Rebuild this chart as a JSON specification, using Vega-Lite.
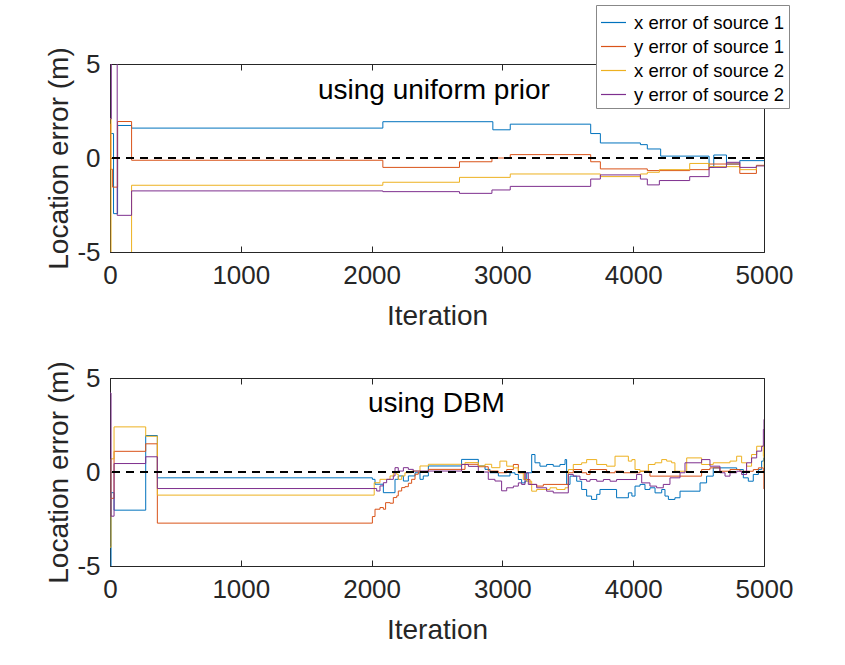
{
  "$schema": "https://vega.github.io/schema/vega-lite/v6.json",
  "background": "white",
  "padding": {"left": 45, "top": 4, "right": 0, "bottom": 0},
  "datasets": {
    "top": [
      {"s": "x1", "it": 0, "v": 1.3}, {"s": "x1", "it": 27, "v": -2.96}, {"s": "x1", "it": 58, "v": 1.73}, {"s": "x1", "it": 165, "v": 1.59},
      {"s": "x1", "it": 2086, "v": 1.93}, {"s": "x1", "it": 2927, "v": 1.5}, {"s": "x1", "it": 3060, "v": 1.8}, {"s": "x1", "it": 3675, "v": 1.3},
      {"s": "x1", "it": 3749, "v": 0.8}, {"s": "x1", "it": 4055, "v": 0.71}, {"s": "x1", "it": 4108, "v": 0.48}, {"s": "x1", "it": 4210, "v": 0.1},
      {"s": "x1", "it": 4580, "v": -0.5}, {"s": "x1", "it": 4616, "v": 0.16}, {"s": "x1", "it": 4713, "v": -0.32}, {"s": "x1", "it": 4815, "v": -0.14},
      {"s": "x1", "it": 5000, "v": -0.14},
      {"s": "y1", "it": 0, "v": 1.8}, {"s": "y1", "it": 5, "v": -0.6}, {"s": "y1", "it": 20, "v": -1.55}, {"s": "y1", "it": 58, "v": 1.94},
      {"s": "y1", "it": 165, "v": -0.12}, {"s": "y1", "it": 2086, "v": -0.5}, {"s": "y1", "it": 2672, "v": -0.2}, {"s": "y1", "it": 2920, "v": 0.0},
      {"s": "y1", "it": 3060, "v": 0.18}, {"s": "y1", "it": 3675, "v": -0.2}, {"s": "y1", "it": 3749, "v": -0.58}, {"s": "y1", "it": 4108, "v": -0.67},
      {"s": "y1", "it": 4432, "v": -0.62}, {"s": "y1", "it": 4580, "v": -0.32}, {"s": "y1", "it": 4815, "v": -0.82}, {"s": "y1", "it": 4942, "v": -0.39},
      {"s": "y1", "it": 5000, "v": -0.39},
      {"s": "x2", "it": 0, "v": 2.1}, {"s": "x2", "it": 8, "v": -6}, {"s": "x2", "it": 165, "v": -1.45}, {"s": "x2", "it": 2086, "v": -1.29},
      {"s": "x2", "it": 2672, "v": -1.03}, {"s": "x2", "it": 3060, "v": -0.85}, {"s": "x2", "it": 3749, "v": -0.99}, {"s": "x2", "it": 4055, "v": -0.85},
      {"s": "x2", "it": 4108, "v": -0.76}, {"s": "x2", "it": 4200, "v": -0.62}, {"s": "x2", "it": 4432, "v": -0.29}, {"s": "x2", "it": 4580, "v": -0.46},
      {"s": "x2", "it": 4815, "v": -0.62}, {"s": "x2", "it": 4942, "v": -0.4}, {"s": "x2", "it": 5000, "v": -0.4},
      {"s": "y2", "it": 0, "v": 2.08}, {"s": "y2", "it": 10, "v": 6}, {"s": "y2", "it": 55, "v": -3.05}, {"s": "y2", "it": 165, "v": -1.75},
      {"s": "y2", "it": 2086, "v": -1.79}, {"s": "y2", "it": 2672, "v": -1.88}, {"s": "y2", "it": 2920, "v": -1.7}, {"s": "y2", "it": 3060, "v": -1.51},
      {"s": "y2", "it": 3675, "v": -1.12}, {"s": "y2", "it": 3749, "v": -0.9}, {"s": "y2", "it": 4055, "v": -1.12}, {"s": "y2", "it": 4108, "v": -1.43},
      {"s": "y2", "it": 4200, "v": -1.2}, {"s": "y2", "it": 4432, "v": -0.99}, {"s": "y2", "it": 4580, "v": -0.5}, {"s": "y2", "it": 4713, "v": -0.23},
      {"s": "y2", "it": 4815, "v": -0.5}, {"s": "y2", "it": 4942, "v": -0.42}, {"s": "y2", "it": 5000, "v": -0.42}
    ],
    "bot": [
      {"s": "x1", "it": 0, "v": -5.2}, {"s": "x1", "it": 8, "v": -1.1}, {"s": "x1", "it": 31, "v": -2.03}, {"s": "x1", "it": 273, "v": 1.94},
      {"s": "x1", "it": 362, "v": -0.31}, {"s": "x1", "it": 2006, "v": -0.39}, {"s": "x1", "it": 2026, "v": -0.65}, {"s": "x1", "it": 2090, "v": -1.1},
      {"s": "x1", "it": 2179, "v": -0.39}, {"s": "x1", "it": 2204, "v": -0.21}, {"s": "x1", "it": 2243, "v": -0.48}, {"s": "x1", "it": 2281, "v": -0.21},
      {"s": "x1", "it": 2332, "v": -0.04}, {"s": "x1", "it": 2370, "v": -0.39}, {"s": "x1", "it": 2395, "v": -0.21}, {"s": "x1", "it": 2434, "v": 0.32},
      {"s": "x1", "it": 2688, "v": 0.67}, {"s": "x1", "it": 2816, "v": 0.32}, {"s": "x1", "it": 2867, "v": 0.14}, {"s": "x1", "it": 2905, "v": -0.04},
      {"s": "x1", "it": 2969, "v": -0.21}, {"s": "x1", "it": 3058, "v": -0.04}, {"s": "x1", "it": 3096, "v": -0.13}, {"s": "x1", "it": 3122, "v": -0.4},
      {"s": "x1", "it": 3147, "v": -0.58}, {"s": "x1", "it": 3173, "v": -0.49}, {"s": "x1", "it": 3186, "v": -0.04}, {"s": "x1", "it": 3224, "v": 0.93},
      {"s": "x1", "it": 3249, "v": 0.49}, {"s": "x1", "it": 3287, "v": 0.31}, {"s": "x1", "it": 3338, "v": 0.4}, {"s": "x1", "it": 3389, "v": 0.31},
      {"s": "x1", "it": 3440, "v": 0.4}, {"s": "x1", "it": 3479, "v": 0.66}, {"s": "x1", "it": 3491, "v": -0.66}, {"s": "x1", "it": 3517, "v": -0.22},
      {"s": "x1", "it": 3568, "v": -0.49}, {"s": "x1", "it": 3606, "v": -0.93}, {"s": "x1", "it": 3644, "v": -1.28}, {"s": "x1", "it": 3682, "v": -1.46},
      {"s": "x1", "it": 3721, "v": -1.19}, {"s": "x1", "it": 3746, "v": -0.93}, {"s": "x1", "it": 3873, "v": -1.37}, {"s": "x1", "it": 3963, "v": -1.11},
      {"s": "x1", "it": 3990, "v": -1.28}, {"s": "x1", "it": 4014, "v": -0.75}, {"s": "x1", "it": 4052, "v": -0.66}, {"s": "x1", "it": 4090, "v": -0.93},
      {"s": "x1", "it": 4128, "v": -0.84}, {"s": "x1", "it": 4167, "v": -1.11}, {"s": "x1", "it": 4218, "v": -0.93}, {"s": "x1", "it": 4243, "v": -1.28},
      {"s": "x1", "it": 4269, "v": -1.46}, {"s": "x1", "it": 4319, "v": -1.37}, {"s": "x1", "it": 4358, "v": -1.02}, {"s": "x1", "it": 4511, "v": -0.58},
      {"s": "x1", "it": 4561, "v": -0.22}, {"s": "x1", "it": 4612, "v": 0.22}, {"s": "x1", "it": 4791, "v": 0.13}, {"s": "x1", "it": 4842, "v": -0.31},
      {"s": "x1", "it": 4880, "v": -0.49}, {"s": "x1", "it": 4918, "v": -0.13}, {"s": "x1", "it": 4957, "v": 0.13}, {"s": "x1", "it": 4982, "v": 0.58},
      {"s": "x1", "it": 4997, "v": 0.75}, {"s": "x1", "it": 5000, "v": 0.75},
      {"s": "y1", "it": 0, "v": -1.4}, {"s": "y1", "it": 31, "v": 1.1}, {"s": "y1", "it": 273, "v": 1.5}, {"s": "y1", "it": 362, "v": -2.72},
      {"s": "y1", "it": 2006, "v": -2.37}, {"s": "y1", "it": 2026, "v": -1.98}, {"s": "y1", "it": 2064, "v": -1.89}, {"s": "y1", "it": 2090, "v": -1.98},
      {"s": "y1", "it": 2107, "v": -1.63}, {"s": "y1", "it": 2141, "v": -1.66}, {"s": "y1", "it": 2166, "v": -1.36}, {"s": "y1", "it": 2192, "v": -1.27},
      {"s": "y1", "it": 2204, "v": -1.01}, {"s": "y1", "it": 2230, "v": -0.83}, {"s": "y1", "it": 2255, "v": -0.78}, {"s": "y1", "it": 2281, "v": -0.6},
      {"s": "y1", "it": 2306, "v": -0.39}, {"s": "y1", "it": 2332, "v": -0.12}, {"s": "y1", "it": 2357, "v": 0.0}, {"s": "y1", "it": 2434, "v": 0.14},
      {"s": "y1", "it": 2714, "v": 0.41}, {"s": "y1", "it": 2816, "v": 0.28}, {"s": "y1", "it": 2892, "v": 0.05}, {"s": "y1", "it": 2969, "v": -0.04},
      {"s": "y1", "it": 3033, "v": 0.13}, {"s": "y1", "it": 3084, "v": 0.4}, {"s": "y1", "it": 3122, "v": -0.04}, {"s": "y1", "it": 3173, "v": -0.4},
      {"s": "y1", "it": 3211, "v": -0.66}, {"s": "y1", "it": 3262, "v": -0.75}, {"s": "y1", "it": 3313, "v": -0.66}, {"s": "y1", "it": 3504, "v": -0.04},
      {"s": "y1", "it": 3542, "v": 0.13}, {"s": "y1", "it": 3606, "v": -0.04}, {"s": "y1", "it": 3644, "v": -0.13}, {"s": "y1", "it": 3670, "v": 0.13},
      {"s": "y1", "it": 3797, "v": -0.04}, {"s": "y1", "it": 3861, "v": 0.04}, {"s": "y1", "it": 3924, "v": -0.04}, {"s": "y1", "it": 4052, "v": 0.04},
      {"s": "y1", "it": 4128, "v": -0.22}, {"s": "y1", "it": 4523, "v": 0.13}, {"s": "y1", "it": 4587, "v": 0.22}, {"s": "y1", "it": 4663, "v": 0.04},
      {"s": "y1", "it": 4740, "v": 0.13}, {"s": "y1", "it": 4816, "v": 0.04}, {"s": "y1", "it": 4918, "v": 0.13}, {"s": "y1", "it": 4957, "v": 0.22},
      {"s": "y1", "it": 4995, "v": -0.04}, {"s": "y1", "it": 4999, "v": -0.9}, {"s": "y1", "it": 5000, "v": -0.9},
      {"s": "x2", "it": 0, "v": -4.0}, {"s": "x2", "it": 8, "v": 0.7}, {"s": "x2", "it": 31, "v": 2.4}, {"s": "x2", "it": 273, "v": 1.9},
      {"s": "x2", "it": 362, "v": -1.23}, {"s": "x2", "it": 2020, "v": -0.57}, {"s": "x2", "it": 2064, "v": -0.39}, {"s": "x2", "it": 2141, "v": -0.21},
      {"s": "x2", "it": 2166, "v": -0.04}, {"s": "x2", "it": 2192, "v": -0.12}, {"s": "x2", "it": 2204, "v": -0.39}, {"s": "x2", "it": 2230, "v": -0.21},
      {"s": "x2", "it": 2255, "v": -0.04}, {"s": "x2", "it": 2306, "v": 0.05}, {"s": "x2", "it": 2370, "v": 0.32}, {"s": "x2", "it": 2434, "v": 0.41},
      {"s": "x2", "it": 2714, "v": 0.5}, {"s": "x2", "it": 2816, "v": 0.32}, {"s": "x2", "it": 2867, "v": 0.41}, {"s": "x2", "it": 2918, "v": 0.23},
      {"s": "x2", "it": 2981, "v": 0.58}, {"s": "x2", "it": 3033, "v": 0.31}, {"s": "x2", "it": 3084, "v": 0.22}, {"s": "x2", "it": 3122, "v": -0.04},
      {"s": "x2", "it": 3160, "v": -0.4}, {"s": "x2", "it": 3186, "v": -0.49}, {"s": "x2", "it": 3224, "v": -1.02}, {"s": "x2", "it": 3262, "v": -0.93},
      {"s": "x2", "it": 3364, "v": -0.84}, {"s": "x2", "it": 3415, "v": -0.93}, {"s": "x2", "it": 3479, "v": -0.84}, {"s": "x2", "it": 3504, "v": 0.13},
      {"s": "x2", "it": 3542, "v": 0.4}, {"s": "x2", "it": 3606, "v": 0.49}, {"s": "x2", "it": 3644, "v": 0.66}, {"s": "x2", "it": 3721, "v": 0.4},
      {"s": "x2", "it": 3797, "v": 0.31}, {"s": "x2", "it": 3861, "v": 0.84}, {"s": "x2", "it": 3963, "v": 0.58}, {"s": "x2", "it": 3990, "v": 0.66},
      {"s": "x2", "it": 4014, "v": 0.13}, {"s": "x2", "it": 4052, "v": 0.04}, {"s": "x2", "it": 4116, "v": 0.4}, {"s": "x2", "it": 4167, "v": 0.49},
      {"s": "x2", "it": 4218, "v": 0.66}, {"s": "x2", "it": 4256, "v": 0.58}, {"s": "x2", "it": 4294, "v": 0.49}, {"s": "x2", "it": 4319, "v": 0.04},
      {"s": "x2", "it": 4409, "v": 0.75}, {"s": "x2", "it": 4523, "v": 0.4}, {"s": "x2", "it": 4612, "v": 0.49}, {"s": "x2", "it": 4740, "v": 0.58},
      {"s": "x2", "it": 4791, "v": 0.84}, {"s": "x2", "it": 4829, "v": 0.49}, {"s": "x2", "it": 4867, "v": 0.31}, {"s": "x2", "it": 4905, "v": 0.93},
      {"s": "x2", "it": 4944, "v": 1.37}, {"s": "x2", "it": 4995, "v": 0.84}, {"s": "x2", "it": 5000, "v": 0.22},
      {"s": "y2", "it": 0, "v": 4.2}, {"s": "y2", "it": 8, "v": -2.35}, {"s": "y2", "it": 31, "v": 0.45}, {"s": "y2", "it": 273, "v": 0.81},
      {"s": "y2", "it": 362, "v": -0.88}, {"s": "y2", "it": 2039, "v": -1.01}, {"s": "y2", "it": 2064, "v": -0.74}, {"s": "y2", "it": 2090, "v": -0.57},
      {"s": "y2", "it": 2115, "v": -0.39}, {"s": "y2", "it": 2166, "v": -0.21}, {"s": "y2", "it": 2179, "v": 0.23}, {"s": "y2", "it": 2204, "v": 0.05},
      {"s": "y2", "it": 2243, "v": 0.23}, {"s": "y2", "it": 2281, "v": 0.14}, {"s": "y2", "it": 2319, "v": 0.05}, {"s": "y2", "it": 2688, "v": 0.4},
      {"s": "y2", "it": 2740, "v": 0.3}, {"s": "y2", "it": 2816, "v": 0.0}, {"s": "y2", "it": 2892, "v": -0.39}, {"s": "y2", "it": 2943, "v": -0.48},
      {"s": "y2", "it": 2994, "v": -1.0}, {"s": "y2", "it": 3033, "v": -0.84}, {"s": "y2", "it": 3084, "v": -0.75}, {"s": "y2", "it": 3122, "v": -0.58},
      {"s": "y2", "it": 3147, "v": -0.66}, {"s": "y2", "it": 3173, "v": -0.04}, {"s": "y2", "it": 3198, "v": -0.66}, {"s": "y2", "it": 3262, "v": -0.84},
      {"s": "y2", "it": 3338, "v": -1.02}, {"s": "y2", "it": 3389, "v": -1.11}, {"s": "y2", "it": 3504, "v": -0.13}, {"s": "y2", "it": 3542, "v": -0.22},
      {"s": "y2", "it": 3593, "v": -0.4}, {"s": "y2", "it": 3644, "v": -0.49}, {"s": "y2", "it": 3670, "v": -0.4}, {"s": "y2", "it": 3721, "v": -0.49},
      {"s": "y2", "it": 3772, "v": -0.4}, {"s": "y2", "it": 3823, "v": -0.49}, {"s": "y2", "it": 3873, "v": -0.4}, {"s": "y2", "it": 4026, "v": -0.13},
      {"s": "y2", "it": 4065, "v": -0.58}, {"s": "y2", "it": 4128, "v": -0.75}, {"s": "y2", "it": 4179, "v": -0.84}, {"s": "y2", "it": 4230, "v": -0.66},
      {"s": "y2", "it": 4281, "v": -0.31}, {"s": "y2", "it": 4358, "v": -0.04}, {"s": "y2", "it": 4396, "v": 0.49}, {"s": "y2", "it": 4523, "v": 0.66},
      {"s": "y2", "it": 4587, "v": 0.31}, {"s": "y2", "it": 4663, "v": -0.04}, {"s": "y2", "it": 4702, "v": -0.22}, {"s": "y2", "it": 4740, "v": -0.04},
      {"s": "y2", "it": 4791, "v": 0.04}, {"s": "y2", "it": 4829, "v": -0.13}, {"s": "y2", "it": 4867, "v": 0.49}, {"s": "y2", "it": 4905, "v": 0.75},
      {"s": "y2", "it": 4944, "v": 1.11}, {"s": "y2", "it": 4982, "v": 1.37}, {"s": "y2", "it": 4995, "v": 2.26}, {"s": "y2", "it": 5000, "v": 2.8}
    ]
  },
  "spacing": 126,
  "bounds": "flush",
  "vconcat": [
    {
      "width": 654,
      "height": 188,
      "layer": [
        {
          "data": {"name": "top"},
          "mark": {"type": "line", "interpolate": "step-after", "strokeWidth": 1, "clip": true},
          "encoding": {
            "x": {"field": "it", "type": "quantitative", "scale": {"domain": [0, 5000], "nice": false},
                  "axis": {"values": [0, 1000, 2000, 3000, 4000, 5000], "labelExpr": "'' + datum.value", "title": "Iteration", "tickSize": -6, "labelPadding": 16, "titlePadding": 14}},
            "y": {"field": "v", "type": "quantitative", "scale": {"domain": [-5, 5], "nice": false},
                  "axis": {"values": [-5, 0, 5], "labelExpr": "'' + datum.value", "title": "Location error (m)", "tickSize": -6, "labelPadding": 16, "titlePadding": 3}},
            "color": {"field": "s", "type": "nominal",
                      "scale": {"domain": ["x1", "y1", "x2", "y2"], "range": ["#0072BD", "#D95319", "#EDB120", "#7E2F8E"]},
                      "legend": {"orient": "none", "legendX": 486, "legendY": -59, "title": null, "symbolType": "stroke", "symbolSize": 625, "symbolStrokeWidth": 1.2,
                                 "labelFontSize": 18.5, "labelColor": "black", "labelOffset": 7, "rowPadding": 1, "padding": 4,
                                 "fillColor": "white", "strokeColor": "#888", "labelExpr": "datum.label[0] + ' error of source ' + datum.label[1]"}}
          }
        },
        {
          "data": {"values": [{}]},
          "mark": {"type": "rule", "strokeDash": [8, 6], "strokeWidth": 2, "color": "black"},
          "encoding": {"y": {"datum": 0, "axis": null}}
        },
        {
          "data": {"values": [{"it": 1590, "v": 3.57, "t": "using uniform prior"}]},
          "mark": {"type": "text", "align": "left", "baseline": "middle", "fontSize": 28, "color": "black"},
          "encoding": {
            "x": {"field": "it", "type": "quantitative", "axis": {"orient": "top", "values": [0, 1000, 2000, 3000, 4000, 5000], "labels": false, "title": null, "tickSize": -6}},
            "y": {"field": "v", "type": "quantitative", "axis": {"orient": "right", "values": [-5, 0, 5], "labels": false, "title": null, "tickSize": -6}},
            "text": {"field": "t"}
          }
        }
      ],
      "resolve": {"axis": {"x": "independent", "y": "independent"}}
    },
    {
      "width": 654,
      "height": 188,
      "layer": [
        {
          "data": {"name": "bot"},
          "mark": {"type": "line", "interpolate": "step-after", "strokeWidth": 1, "clip": true},
          "encoding": {
            "x": {"field": "it", "type": "quantitative", "scale": {"domain": [0, 5000], "nice": false},
                  "axis": {"values": [0, 1000, 2000, 3000, 4000, 5000], "labelExpr": "'' + datum.value", "title": "Iteration", "tickSize": -6, "labelPadding": 16, "titlePadding": 14}},
            "y": {"field": "v", "type": "quantitative", "scale": {"domain": [-5, 5], "nice": false},
                  "axis": {"values": [-5, 0, 5], "labelExpr": "'' + datum.value", "title": "Location error (m)", "tickSize": -6, "labelPadding": 16, "titlePadding": 3}},
            "color": {"field": "s", "type": "nominal",
                      "scale": {"domain": ["x1", "y1", "x2", "y2"], "range": ["#0072BD", "#D95319", "#EDB120", "#7E2F8E"]},
                      "legend": null}
          }
        },
        {
          "data": {"values": [{}]},
          "mark": {"type": "rule", "strokeDash": [8, 6], "strokeWidth": 2, "color": "black"},
          "encoding": {"y": {"datum": 0, "axis": null}}
        },
        {
          "data": {"values": [{"it": 1972, "v": 3.64, "t": "using DBM"}]},
          "mark": {"type": "text", "align": "left", "baseline": "middle", "fontSize": 28, "color": "black"},
          "encoding": {
            "x": {"field": "it", "type": "quantitative", "axis": {"orient": "top", "values": [0, 1000, 2000, 3000, 4000, 5000], "labels": false, "title": null, "tickSize": -6}},
            "y": {"field": "v", "type": "quantitative", "axis": {"orient": "right", "values": [-5, 0, 5], "labels": false, "title": null, "tickSize": -6}},
            "text": {"field": "t"}
          }
        }
      ],
      "resolve": {"axis": {"x": "independent", "y": "independent"}}
    }
  ],
  "resolve": {"scale": {"color": "independent"}, "legend": {"color": "independent"}},
  "config": {
    "font": "Liberation Sans",
    "view": {"stroke": "#262626", "strokeWidth": 1},
    "axis": {"grid": false, "domain": false, "labelFontSize": 26, "titleFontSize": 28, "titleFontWeight": "normal",
             "labelColor": "#262626", "titleColor": "#262626", "tickColor": "#262626", "labelFlush": false, "labelOverlap": false}
  }
}
